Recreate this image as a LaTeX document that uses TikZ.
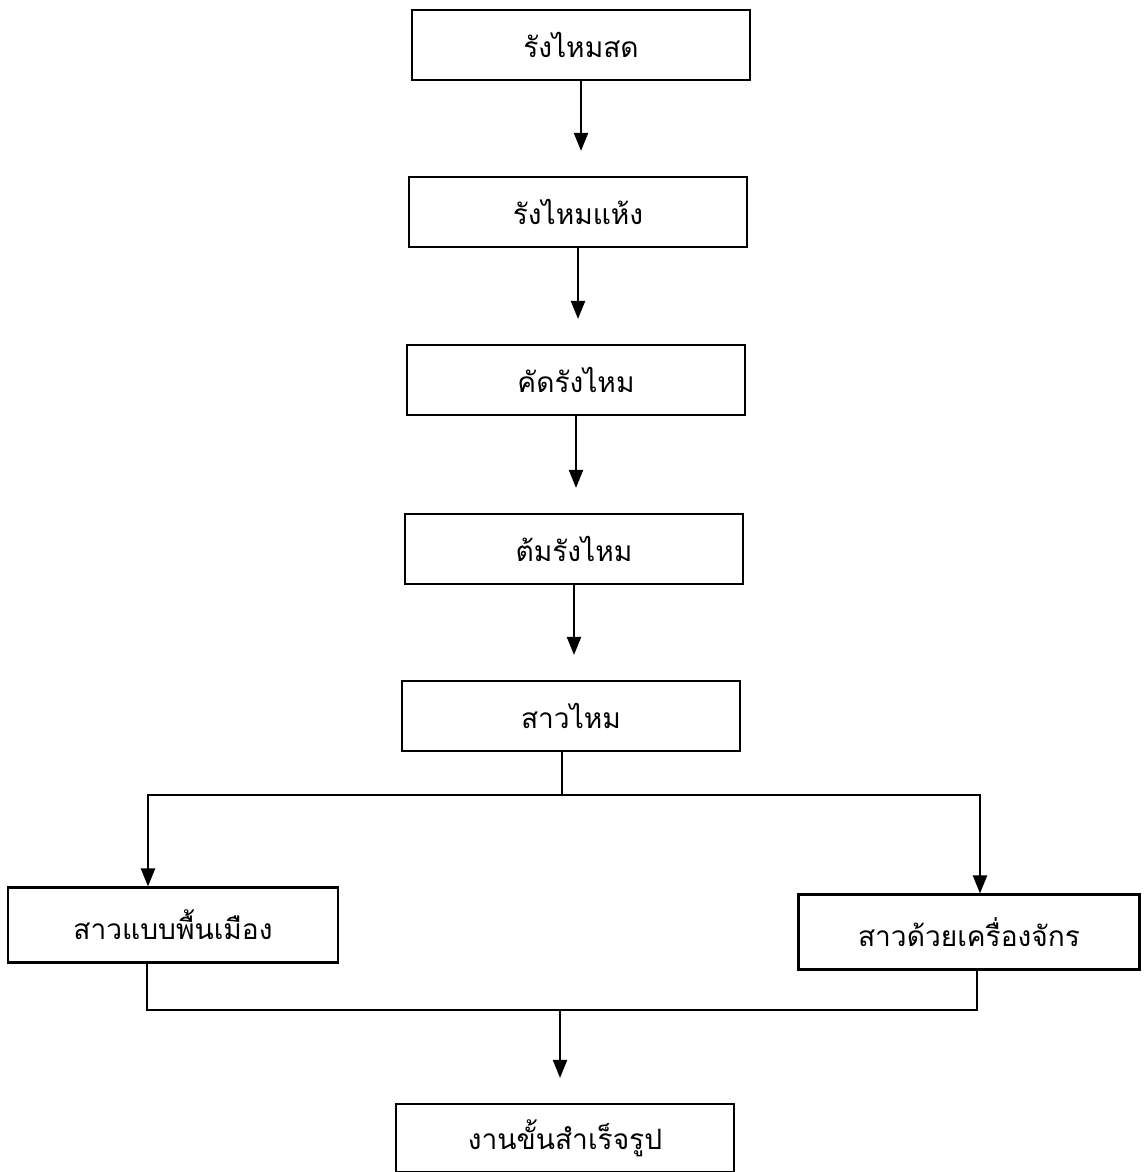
\documentclass[tikz,border=0pt]{standalone}
\usepackage{fontspec}
\newfontfamily\thaifont[Script=Thai]{Loma}
\usetikzlibrary{arrows.meta, positioning, calc}

\begin{document}
\begin{tikzpicture}[
    >={Triangle[length=3.6mm, width=2.8mm]},
    stepbox/.style={draw, rectangle, fill=white, line width=1.2pt, minimum width=6.76cm, minimum height=1.4cm, inner sep=2pt, font=\thaifont\fontsize{16}{20}\selectfont, align=center},
    sidebox/.style={stepbox, minimum height=1.5cm},
    flow/.style={->, line width=1.2pt, black, shorten >=5mm},
    branch/.style={->, line width=1.2pt, black},
    link/.style={line width=1.2pt, black}
]
    \useasboundingbox (0,0) rectangle (22.94,-23.44);

    \node[stepbox]                       (Fresh)    at (11.62,-0.90)  {รังไหมสด};
    \node[stepbox]                       (Dried)    at (11.56,-4.24)  {รังไหมแห้ง};
    \node[stepbox]                       (Sorted)   at (11.52,-7.60)  {คัดรังไหม};
    \node[stepbox]                       (Boiled)   at (11.48,-10.98) {ต้มรังไหม};
    \node[stepbox]                       (Reeled)   at (11.42,-14.32) {สาวไหม};
    \node[sidebox, minimum width=6.6cm]  (Native)   at (3.46,-18.50)  {สาวแบบพื้นเมือง};
    \node[sidebox, minimum width=6.82cm] (Machine)  at (19.38,-18.64) {สาวด้วยเครื่องจักร};
    \node[stepbox, minimum height=1.36cm] (Finished) at (11.30,-22.76) {งานขั้นสำเร็จรูป};

    \coordinate (Split) at (11.24,-15.90);
    \coordinate (Join)  at (11.20,-20.20);

    \draw[flow] (Fresh.south)  -- (Fresh.south |- Dried.north);
    \draw[flow] (Dried.south)  -- (Dried.south |- Sorted.north);
    \draw[flow] (Sorted.south) -- (Sorted.south |- Boiled.north);
    \draw[flow] (Boiled.south) -- (Boiled.south |- Reeled.north);

    % split into the two reeling methods
    \draw[link] (Split |- Reeled.south) -- (Split);
    \draw[branch] (Split) -| ($(Native.north)+(-0.5,0)$);
    \draw[branch] (Split) -| ($(Machine.north)+(0.22,0)$);

    % join back
    \draw[link] ($(Native.south)+(-0.52,0)$) |- (Join) -| ($(Machine.south)+(0.16,0)$);
    \draw[flow] (Join) -- (Join |- Finished.north);

\end{tikzpicture}
\end{document}
